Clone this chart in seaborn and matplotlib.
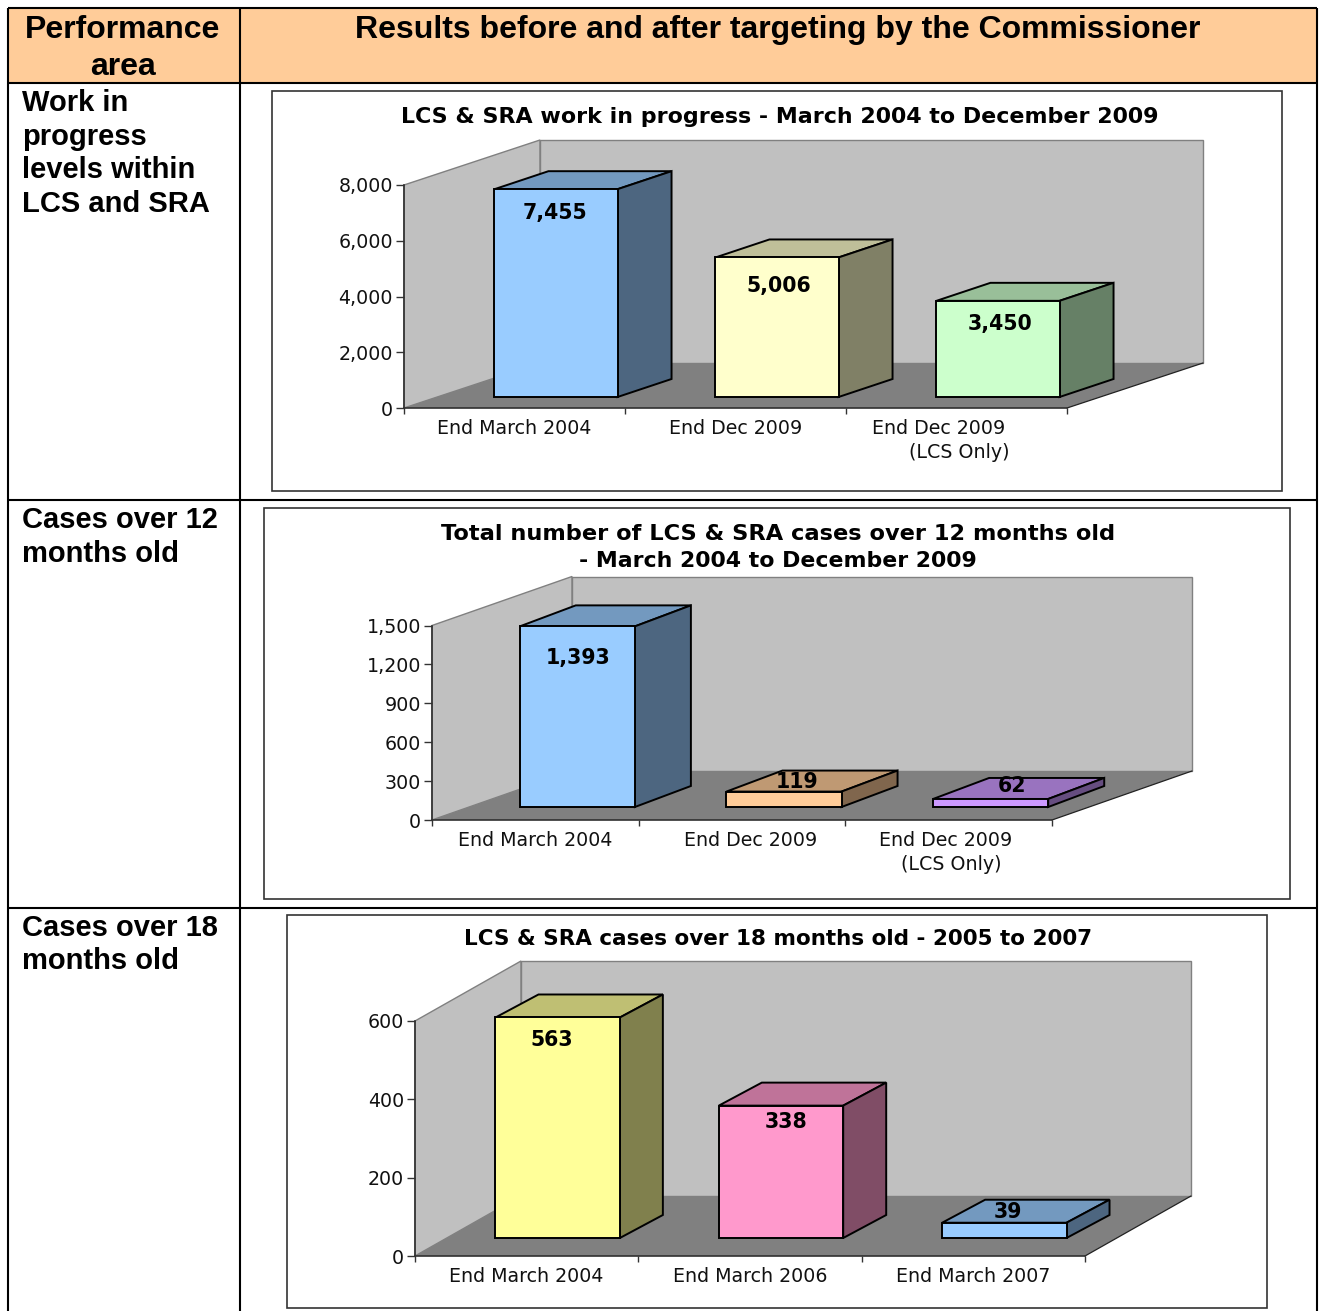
import matplotlib
matplotlib.use("Agg")
import matplotlib.pyplot as plt
from matplotlib.colors import to_rgb
from matplotlib.patches import Polygon, Rectangle
import pandas as pd
import seaborn as sns

W, H = 1321, 1311

# chart data
wip_cats = ["End March 2004", "End Dec 2009", "End Dec 2009 (LCS Only)"]
wip_labels = ["End March 2004", "End Dec 2009", "End Dec 2009      \n (LCS Only)"]
wip_values = [7455, 5006, 3450]
wip_colors = ["#99CCFF", "#FFFFCC", "#CCFFCC"]
wip_ticks = [0, 2000, 4000, 6000, 8000]

m12_cats = ["End March 2004", "End Dec 2009", "End Dec 2009 (LCS Only)"]
m12_labels = ["End March 2004", "   End Dec 2009", "End Dec 2009 \n (LCS Only)"]
m12_values = [1393, 119, 62]
m12_colors = ["#99CCFF", "#FFCC99", "#CC99FF"]
m12_ticks = [0, 300, 600, 900, 1200, 1500]

m18_cats = ["End March 2004", "End March 2006", "End March 2007"]
m18_values = [563, 338, 39]
m18_colors = ["#FFFF99", "#FF99CC", "#99CCFF"]
m18_ticks = [0, 200, 400, 600]

sns.set_style("white")
plt.rcParams["font.family"] = ["Liberation Sans", "DejaVu Sans"]
plt.rcParams["text.color"] = "black"

fig = plt.figure(figsize=(W / 100, H / 100), dpi=100)
bg = fig.add_axes([0, 0, 1, 1], zorder=0)
bg.set_xlim(0, W)
bg.set_ylim(H, 0)
bg.axis("off")


def shade(color, k):
    return tuple(c * k for c in to_rgb(color))


def draw_chart(cats, labels, values, colors, ticks, box, front, wall, depth, base, shift, offsets):
    x0, x1, y0, ytop = front
    ymax = ticks[-1]
    bg.add_patch(Rectangle((box[0], box[1]), box[2] - box[0], box[3] - box[1],
                           fc="white", ec="#333333", lw=1.2))
    ax = fig.add_axes([x0 / W, 1 - y0 / H, (x1 - x0) / W, (y0 - ytop) / H], zorder=2)
    ax.patch.set_visible(False)

    # px -> data units
    ux = 3 / (x1 - x0)
    uy = ymax / (y0 - ytop)
    wx, wy = wall[0] * ux, wall[1] * uy
    dx, dy = depth[0] * ux, depth[1] * uy
    sx, sy = shift * ux, base * uy

    df = pd.DataFrame({"cat": cats, "value": values})
    sns.barplot(data=df, x="cat", y="value", hue="cat", palette=colors, saturation=1,
                width=0.557, dodge=False, legend=False, edgecolor="black", linewidth=1.4, ax=ax)
    ax.set_xlim(-0.5, 2.5)
    ax.set_ylim(0, ymax)

    l, r = -0.5, 2.5
    ax.add_patch(Polygon([(l, 0), (l, ymax), (l + wx, ymax + wy), (l + wx, wy)], fc="#C0C0C0",
                         ec="#808080", lw=1, zorder=0.5, clip_on=False))
    ax.add_patch(Polygon([(l + wx, wy), (l + wx, ymax + wy), (r + wx, ymax + wy), (r + wx, wy)],
                         fc="#C0C0C0", ec="#808080", lw=1, zorder=0.5, clip_on=False))
    ax.add_patch(Polygon([(l, 0), (r, 0), (r + wx, wy), (l + wx, wy)], fc="#808080", ec="none",
                         zorder=0.6, clip_on=False))
    ax.plot([r, r + wx], [0, wy], color="#222222", lw=0.9, zorder=0.7, clip_on=False)

    for bar, val, col, off in zip(ax.patches[:3], values, colors, offsets):
        bar.set_x(bar.get_x() + sx)
        bar.set_y(sy)
        bar.set_clip_on(False)
        bar.set_zorder(3)
        a, b = bar.get_x(), bar.get_x() + bar.get_width()
        top = sy + val
        ax.add_patch(Polygon([(a, top), (b, top), (b + dx, top + dy), (a + dx, top + dy)],
                             fc=shade(col, 0.75), ec="black", lw=1.4, zorder=2.5, clip_on=False))
        ax.add_patch(Polygon([(b, sy), (b, top), (b + dx, top + dy), (b + dx, sy + dy)],
                             fc=shade(col, 0.5), ec="black", lw=1.4, zorder=2.5, clip_on=False))
        ax.annotate(f"{val:,}", xy=((a + b) / 2, top), xytext=off, textcoords="offset pixels",
                    ha="center", va="center", fontsize=14.8, fontweight="bold",
                    family="DejaVu Sans", color="black", zorder=5, annotation_clip=False)

    ax.set_xlabel("")
    ax.set_ylabel("")
    ax.set_yticks(ticks, [f"{t:,}" for t in ticks])
    ax.set_xticks([0, 1, 2], labels, linespacing=1.35)
    ax.set_xticks([-0.5, 0.5, 1.5, 2.5], minor=True)
    ax.tick_params(axis="y", length=6, width=1, color="#333333", pad=2, labelsize=13.7,
                   labelcolor="#111111", left=True)
    ax.tick_params(axis="x", which="major", length=0, pad=8, labelsize=13.7, labelcolor="#111111")
    ax.tick_params(axis="x", which="minor", length=4, width=1, color="#333333", bottom=True)
    for lab in ax.get_xticklabels() + ax.get_yticklabels():
        lab.set_family("DejaVu Sans")
    sns.despine(ax=ax)
    for side in ("left", "bottom"):
        ax.spines[side].set_color("#303030")
        ax.spines[side].set_linewidth(1.2)
        ax.spines[side].set_zorder(2)
    return ax


# table shell
bg.add_patch(Rectangle((8, 8), 1309, 75, fc="#FFCC99", ec="none"))
for y in [8, 83, 499.5, 908]:
    bg.plot([8, 1317], [y, y], color="black", lw=1.5, solid_capstyle="butt")
for x in [8, 240, 1317]:
    bg.plot([x, x], [8, H], color="black", lw=1.5, solid_capstyle="butt")

bg.text(123, 30, "Performance", ha="center", va="center", fontsize=23, fontweight="bold")
bg.text(123, 67, "area", ha="center", va="center", fontsize=23, fontweight="bold")
bg.text(778, 30, "Results before and after targeting by the Commissioner", ha="center", va="center",
        fontsize=23, fontweight="bold")

row_text = [("Work in", 103), ("progress", 137), ("levels within", 170), ("LCS and SRA", 204),
            ("Cases over 12", 520), ("months old", 554), ("Cases over 18", 928), ("months old", 961)]
for txt, y in row_text:
    bg.text(22, y, txt, ha="left", va="center", fontsize=21, fontweight="bold")

draw_chart(wip_cats, wip_labels, wip_values, wip_colors, wip_ticks,
           box=(272, 91, 1282, 491), front=(404, 1067, 408, 185), wall=(136, 45),
           depth=(54, 18), base=11, shift=41.5, offsets=[(-1, -24), (2, -29), (2, -23)])
draw_chart(m12_cats, m12_labels, m12_values, m12_colors, m12_ticks,
           box=(264, 508, 1290, 899), front=(432, 1052, 820, 625.5), wall=(140, 49),
           depth=(56, 21), base=13, shift=42, offsets=[(1, -32), (13, 10), (21, 13)])
draw_chart(m18_cats, m18_cats, m18_values, m18_colors, m18_ticks,
           box=(287, 915, 1267, 1308), front=(415, 1085, 1256, 1021), wall=(106, 60),
           depth=(43, 23), base=18, shift=31, offsets=[(-6, -23), (5, -16), (4, 11)])

titles = [("LCS & SRA work in progress - March 2004 to December 2009", 780, 117, 15.9),
          ("Total number of LCS & SRA cases over 12 months old", 778, 534, 16.2),
          ("- March 2004 to December 2009", 778, 561, 15.8),
          ("LCS & SRA cases over 18 months old - 2005 to 2007", 778, 939, 15.5)]
for txt, x, y, size in titles:
    bg.text(x, y, txt, ha="center", va="center", fontsize=size, fontweight="bold",
            family="DejaVu Sans")

fig.savefig("out.png", dpi=100)
